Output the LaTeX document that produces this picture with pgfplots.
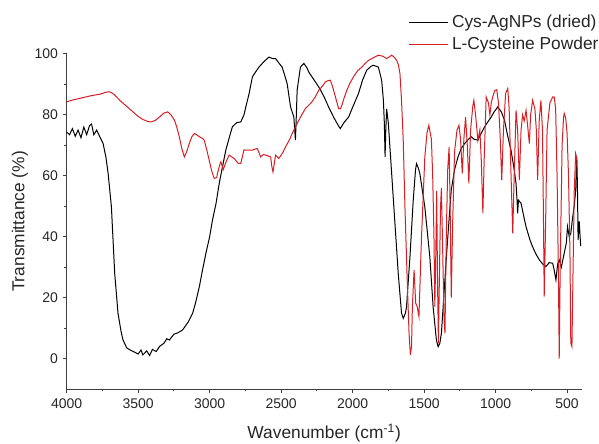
\documentclass[border=0pt]{standalone}
\usepackage{fontspec}
\setmainfont{Liberation Sans}
\usepackage{pgfplots}
\pgfplotsset{compat=1.18}
\definecolor{mred}{RGB}{214,30,36}
\begin{document}
\begin{tikzpicture}
\begin{axis}[
  name=ax,
  scale only axis,
  width=386.25pt, height=251.25pt,
  x dir=reverse,
  xmin=398, xmax=4000, ymin=-10, ymax=100,
  axis lines*=left,
  axis line style={-, line width=0.75pt, black!75},
  xtick={500,1000,...,4000},
  ytick={0,20,...,100},
  minor x tick num=1, minor y tick num=1,
  tick align=outside,
  major tick length=3pt, minor tick length=1.8pt,
  tick style={line width=0.75pt, black!75},
  /pgf/number format/assume math mode=true,
  /pgf/number format/1000 sep={},
  ticklabel style={font=\fontsize{10.5}{12}\selectfont, text=black!85},
  xticklabel style={yshift=-1pt},
  xlabel={Wavenumber (cm\textsuperscript{-1})},
  ylabel={Transmittance (\%)},
  every axis x label/.style={at={(rel axis cs:0.5,0)}, anchor=center, yshift=-33pt, font=\fontsize{13}{15}\selectfont, text=black!85},
  every axis y label/.style={at={(rel axis cs:0,0.5)}, anchor=center, rotate=90, yshift=35pt, font=\fontsize{13}{15}\selectfont, text=black!85},
  legend style={draw=none, fill=none, at={(rel axis cs:0.663,1.12)}, anchor=north west,
    inner sep=0pt, row sep=3.3pt, column sep=2pt, font=\fontsize{13}{15}\selectfont,
    nodes={inner sep=1pt, text=black!85}},
  legend cell align=left,
  legend image code/.code={\draw[#1] (0pt,0pt) -- (29pt,0pt);},
]
\addplot[black, line width=0.75pt] coordinates {
(4000,74.4)(3980,73.5)(3960,75.5)(3940,73)(3920,75)(3900,72.5)(3880,76)(3860,73.5)(3840,76.5)(3826,77)(3810,73.5)(3790,75)(3768,72.8)(3745,70.6)(3725,66)(3710,60.8)(3687,49.8)(3664,28)(3641,14.9)(3620,9)(3606,6.1)(3580,3.5)(3559,2.9)(3530,2.2)(3500,1.5)(3480,2.8)(3467,1.2)(3440,2.5)(3420,1.0)(3400,3)(3374,2.3)(3350,4)(3320,5)(3300,6.5)(3281,6.1)(3250,8)(3220,8.5)(3189,9.4)(3150,12)(3119,14.9)(3100,18)(3072,23.6)(3050,29)(3026,34.6)(3000,40)(2980,45.5)(2955,51)(2933,57.5)(2910,63)(2887,68.4)(2860,73)(2841,76.1)(2810,77.5)(2782,77.7)(2760,80)(2747,82.6)(2724,87)(2701,92.5)(2680,94)(2655,95.7)(2620,97.5)(2585,99)(2560,98.5)(2539,98.5)(2515,97)(2493,95.7)(2475,93)(2458,90.3)(2434,82.6)(2411,79.3)(2400,71.7)(2395,78)(2388,88.1)(2365,95.7)(2341,96.9)(2320,95.5)(2307,94.1)(2270,91.5)(2237,89.2)(2200,86)(2168,82.6)(2130,79)(2100,76.5)(2086,75.5)(2060,77.5)(2028,79.3)(2000,82.5)(1959,87)(1930,91.5)(1901,94.7)(1870,96)(1855,96.3)(1820,95.7)(1797,91.4)(1785,85)(1778,77.2)(1773,66.2)(1768,75)(1762,82)(1750,77.2)(1727,60.8)(1704,44.4)(1681,28)(1658,14.9)(1646,13.2)(1630,15)(1623,17)(1599,33.4)(1576,52)(1560,62)(1553,64)(1540,62.5)(1530,60.8)(1495,49.8)(1460,33.4)(1437,17)(1414,6.1)(1402,3.9)(1390,5)(1379,8.3)(1360,22)(1344,33.4)(1325,46)(1310,55.3)(1287,62)(1263,66.2)(1240,69)(1217,70.6)(1190,72)(1170,72.8)(1150,72)(1124,71.7)(1100,74)(1077,76.1)(1050,78)(1031,79.3)(1010,81)(985,82.6)(960,81)(938,78.3)(915,73)(892,68.4)(870,62)(857,57.5)(850,52)(846,47.7)(840,52)(822,51)(800,46)(787,43.3)(760,39)(741,36.7)(720,34.5)(694,32.4)(670,31)(648,30.2)(625,31.5)(601,31.3)(590,29)(578,25.8)(566,31)(555,32.4)(540,30)(520,34.6)(505,38)(497,43.3)(485,40)(474,41.1)(462,46)(451,49.8)(440,55)(433,66.2)(428,58)(423,38.9)(415,45)(405,37)
};
\addlegendentry{Cys-AgNPs (dried)}
\addplot[mred, line width=0.75pt] coordinates {
(4000,84.3)(3950,85)(3900,85.5)(3884,85.7)(3830,86.3)(3768,86.8)(3720,87.5)(3699,87.6)(3670,86.8)(3629,84.8)(3580,82.8)(3536,81)(3500,79.5)(3467,78.5)(3430,77.8)(3409,77.7)(3380,78.2)(3351,79.3)(3320,80.6)(3293,81)(3270,80)(3246,78.3)(3230,76)(3212,72.8)(3195,69)(3177,66.2)(3160,68)(3142,70.6)(3125,72.8)(3107,73.9)(3090,73.5)(3072,72.8)(3050,72.3)(3038,71.7)(3020,68.5)(3003,65.1)(2985,61.5)(2968,59.1)(2950,59.5)(2945,60.8)(2930,63.5)(2921,64.6)(2905,62)(2890,64)(2864,66.8)(2845,66.2)(2829,65.7)(2800,64.1)(2782,64.1)(2760,68.5)(2747,68.4)(2724,68.4)(2701,68.4)(2680,68.8)(2667,69)(2643,66.2)(2625,67)(2608,66.8)(2590,66.5)(2573,66.2)(2565,63)(2557,61.3)(2548,64)(2539,66.8)(2516,65.7)(2490,67.5)(2469,69.5)(2440,72)(2423,73.9)(2400,76)(2376,78.3)(2350,80.5)(2330,82.1)(2300,83.5)(2284,84.3)(2260,86)(2237,88.1)(2210,89.5)(2191,90.8)(2175,91.2)(2156,91.4)(2145,90)(2133,88.1)(2115,85)(2098,82.1)(2085,82)(2075,83.2)(2060,85.5)(2040,88.1)(2020,90.3)(1994,92.5)(1965,94.5)(1936,95.7)(1910,97)(1889,97.9)(1855,98.8)(1820,99.6)(1790,99.3)(1762,98.5)(1745,99)(1727,99.6)(1710,99)(1692,97.9)(1680,96.5)(1669,93.6)(1658,84.8)(1646,71.7)(1634,49.8)(1616,22.5)(1605,8)(1596,1.2)(1588,4)(1582,17)(1570,29.1)(1559,18.2)(1548,17)(1541,15)(1536,13.8)(1519,38.9)(1495,66.2)(1480,74)(1467,76.6)(1449,72)(1440,60)(1431,40)(1425,17)(1418,35)(1412,55)(1406,25)(1400,5)(1392,30)(1385,50)(1379,56)(1372,40)(1360,12)(1354,8.3)(1345,40)(1335,62)(1325,69.5)(1318,50)(1310,20)(1300,45)(1287,68)(1270,75)(1256,76.6)(1245,72)(1233,60.8)(1222,72)(1210,79.3)(1198,70)(1187,57.5)(1175,75)(1159,83)(1152,84.8)(1140,80)(1124,71.7)(1110,75)(1100,65)(1089,47.7)(1080,65)(1066,85.9)(1050,84)(1040,80)(1030,84)(1020,86)(1005,88)(992,88.3)(980,84)(969,73.9)(957,58.6)(945,75)(930,87)(915,88.7)(905,82)(895,65)(880,41.1)(870,60)(857,81.5)(846,75)(834,58.6)(822,75)(811,80)(800,78)(787,81.5)(775,76)(764,70.6)(755,80)(741,84.8)(725,82)(715,75)(706,58.6)(695,78)(683,84.8)(672,75)(665,45)(660,20.3)(650,45)(640,75)(620,84)(600,85.9)(590,85.9)(580,82)(570,60)(560,25)(555,0)(548,30)(535,70)(525,79)(520,80.5)(510,79)(500,74)(490,60)(480,35)(474,5)(466,3.9)(458,30)(450,55)(440,67.3)(433,66)(428,59.7)
};
\addlegendentry{L-Cysteine Powder}
\end{axis}
\pgfresetboundingbox
\path[use as bounding box] ([shift={(-50pt,-40.5pt)}]ax.south west) rectangle ([shift={(13pt,40.5pt)}]ax.north east);
\end{tikzpicture}
\end{document}
